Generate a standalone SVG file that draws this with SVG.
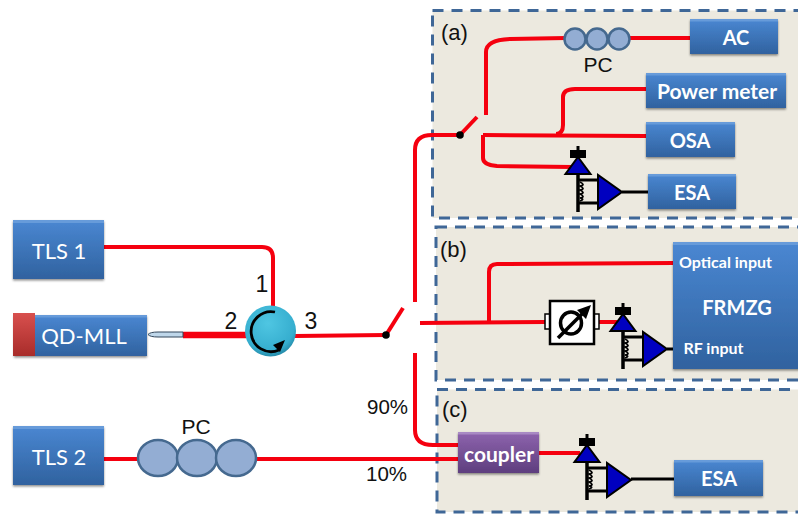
<svg xmlns="http://www.w3.org/2000/svg" xmlns:xlink="http://www.w3.org/1999/xlink" width="798" height="514" viewBox="0 0 798 514">
<style>
.panel{fill:#ECE9DF;stroke:#3F6797;stroke-width:3;stroke-dasharray:11 8}
.box{fill:url(#blue);filter:url(#sh)}
.edge{fill:#6FA0DC;opacity:.8}
.lbl{font-family:Lato,"Liberation Sans",sans-serif;fill:#fff;text-anchor:middle}
.b{font-weight:700}
.t{font-family:"Liberation Sans",Arial,sans-serif;fill:#111}
.red{fill:none;stroke:#F5000F;stroke-width:4;stroke-linejoin:round}
.blk{fill:none;stroke:#000}
.dio{fill:#0000C0;stroke:#000;stroke-width:2}
.pc{fill:#93ADD3;stroke:#45698F;stroke-width:2.5}
</style>
<defs>
<linearGradient id="blue" x1="0" y1="0" x2="0" y2="1"><stop offset="0" stop-color="#4A87D2"/><stop offset="1" stop-color="#30629F"/></linearGradient>
<linearGradient id="pur" x1="0" y1="0" x2="0" y2="1"><stop offset="0" stop-color="#8E64AE"/><stop offset="1" stop-color="#5E3E7E"/></linearGradient>
<linearGradient id="redg" x1="0" y1="0" x2="0" y2="1"><stop offset="0" stop-color="#D8504E"/><stop offset="1" stop-color="#A82C2A"/></linearGradient>
<radialGradient id="cy" cx=".45" cy=".35" r=".7"><stop offset="0" stop-color="#4FC6E2"/><stop offset=".75" stop-color="#36AECF"/><stop offset="1" stop-color="#1F7F9C"/></radialGradient>
<filter id="sh" x="-10%" y="-10%" width="120%" height="125%"><feDropShadow dx="0" dy="1.5" stdDeviation="1.2" flood-color="#000" flood-opacity=".45"/></filter>
<g id="det">
<rect x="-8" y="-7" width="16" height="8" fill="#000"/>
<path d="M0-11V-6" class="blk" stroke-width="3"/>
<path d="M0 17V55" class="blk" stroke-width="3.5"/>
<path d="M0 23H20M0 46H20" class="blk" stroke-width="3"/>
<path d="M2 25c4 2 4 3 0 4c4 2 4 3 0 4c4 2 4 3 0 4c4 2 4 3 0 4c4 1 3 2 0 3" class="blk" stroke-width="1.800"/>
<path d="M0 0L12.500 17H-12.500Z" class="dio"/>
<path d="M20 18V52L44 35Z" class="dio"/>
</g>
</defs>
<rect width="798" height="514" fill="#fff"/>
<g id="panel-a"><rect class="panel" x="432.500" y="10.500" width="380" height="207.500"/><text class="t" x="441" y="40" font-size="22">(a)</text></g>
<g id="panel-b"><rect class="panel" x="436" y="227" width="380" height="153"/><text class="t" x="440" y="257" font-size="22">(b)</text></g>
<g id="panel-c"><rect class="panel" x="437" y="389.500" width="380" height="122.500"/><text class="t" x="442" y="417" font-size="22">(c)</text></g>
<g id="connectors">
<path class="red" d="M104 247H262Q273 247 273 258V308"/>
<path d="M183 335H246" fill="none" stroke="#F5000F" stroke-width="6.500"/>
<path class="red" d="M295 336L386 335"/>
<path class="red" d="M386 335L403 308"/>
<path class="red" d="M415 302V150Q415 135 432 135H460"/>
<path class="red" d="M460 135L477 117"/>
<path class="red" d="M486 115V52Q486 40 510 39L566 38M629 38H690"/>
<path class="red" d="M483 135L646 136"/>
<path class="red" d="M556 134Q563 134 563 125V97Q563 89 575 89H646"/>
<path class="red" d="M483 135V158Q483 165 497 166L572 167"/>
<path class="red" d="M420 323L545 322M489 321V272Q489 264 497 264L673 263M599 322H617"/>
<path class="red" d="M415 353V430Q415 445 433 445H458"/>
<path class="red" d="M104 459H138M255 459H458"/>
<path class="red" d="M539 453H580"/>
<path d="M622 192H648M667 349H673M631 479H674" class="blk" stroke-width="3"/>
<circle cx="386" cy="335" r="3.800"/>
<circle cx="460" cy="135" r="3.800"/>
</g>
<g id="tls1"><rect class="box" x="13" y="220" width="91" height="59"/><rect class="edge" x="13" y="220" width="91" height="3"/><text class="lbl" x="59" y="259" font-size="22">TLS 1</text></g>
<g id="qdmll"><rect class="box" x="14" y="315" width="133" height="41"/><rect class="edge" x="14" y="315" width="133" height="2.500"/><rect x="13" y="313" width="22" height="43" fill="url(#redg)"/><text class="lbl" x="84" y="344" font-size="22">QD-MLL</text></g>
<g id="fiber-tip"><path d="M183 332H158Q150 332 148 334.500Q150 337 158 337H183Z" fill="#BFD7EA" stroke="#33465A" stroke-width="1"/></g>
<g id="tls2"><rect class="box" x="13" y="426" width="91" height="59"/><rect class="edge" x="13" y="426" width="91" height="3"/><text class="lbl" x="59" y="465" font-size="22">TLS 2</text></g>
<g id="circulator"><circle cx="270.500" cy="331" r="25.500" fill="url(#cy)"/><path d="M275 312A20 20 0 1 0 279 350" class="blk" stroke-width="2.800"/><path d="M285 340L273 345L280 352Z"/></g>
<g id="pc-main"><ellipse class="pc" cx="158" cy="458" rx="20" ry="18"/><ellipse class="pc" cx="197" cy="458" rx="20" ry="18"/><ellipse class="pc" cx="236" cy="458" rx="20" ry="18"/><text class="t" x="196" y="434" font-size="21" text-anchor="middle">PC</text></g>
<g id="pc-a"><circle class="pc" cx="575" cy="39" r="10.500"/><circle class="pc" cx="597" cy="39" r="10.500"/><circle class="pc" cx="619" cy="39" r="10.500"/><text class="t" x="598" y="72" font-size="21" text-anchor="middle">PC</text></g>
<g id="ac"><rect class="box" x="690" y="19" width="88" height="35"/><rect class="edge" x="690" y="19" width="88" height="2.500"/><text class="lbl b" x="736" y="45" font-size="20">AC</text></g>
<g id="power-meter"><rect class="box" x="646" y="73" width="140" height="35"/><rect class="edge" x="646" y="73" width="140" height="2.500"/><text class="lbl b" x="717" y="99" font-size="21">Power meter</text></g>
<g id="osa"><rect class="box" x="646" y="122" width="89" height="35"/><rect class="edge" x="646" y="122" width="89" height="2.500"/><text class="lbl b" x="690" y="148" font-size="20">OSA</text></g>
<g id="esa-a"><rect class="box" x="648" y="174" width="88" height="35"/><rect class="edge" x="648" y="174" width="88" height="2.500"/><text class="lbl b" x="692" y="200" font-size="20">ESA</text></g>
<g id="det-a"><use href="#det" xlink:href="#det" x="578" y="157"/></g>
<g id="det-b"><use href="#det" xlink:href="#det" x="623" y="314"/></g>
<g id="det-c"><use href="#det" xlink:href="#det" x="587" y="445"/></g>
<g id="phase-shifter">
<rect x="545" y="314" width="54" height="15" fill="#fff" stroke="#000" stroke-width="1.500"/>
<rect x="550" y="301" width="44" height="43" fill="#fff" stroke="#000" stroke-width="2.500"/>
<ellipse cx="571" cy="323" rx="10.500" ry="11" class="blk" stroke-width="3.500"/>
<path d="M558 338L584 312" class="blk" stroke-width="3.500"/>
<path d="M591 305L577 310L586 319Z"/>
</g>
<g id="frmzg"><rect class="box" x="673" y="242" width="140" height="127"/><rect class="edge" x="673" y="242" width="140" height="3"/><text class="lbl b" x="725.500" y="268" font-size="16">Optical input</text><text class="lbl b" x="737" y="315" font-size="20">FRMZG</text><text class="lbl b" x="713.500" y="354" font-size="16">RF input</text></g>
<g id="coupler"><rect x="458" y="432" width="81" height="41" fill="url(#pur)" filter="url(#sh)"/><rect x="458" y="432" width="81" height="2.500" fill="#A98AC4"/><text class="lbl b" x="499" y="462" font-size="21">coupler</text></g>
<g id="esa-c"><rect class="box" x="674" y="460" width="89" height="36"/><rect class="edge" x="674" y="460" width="89" height="2.500"/><text class="lbl b" x="719" y="486" font-size="20">ESA</text></g>
<g id="labels" class="t">
<text x="262" y="292" font-size="23" text-anchor="middle">1</text>
<text x="231" y="329" font-size="23" text-anchor="middle">2</text>
<text x="311" y="329" font-size="23" text-anchor="middle">3</text>
<text x="367" y="414" font-size="20.500">90%</text>
<text x="366" y="481" font-size="20.500">10%</text>
</g>
</svg>
